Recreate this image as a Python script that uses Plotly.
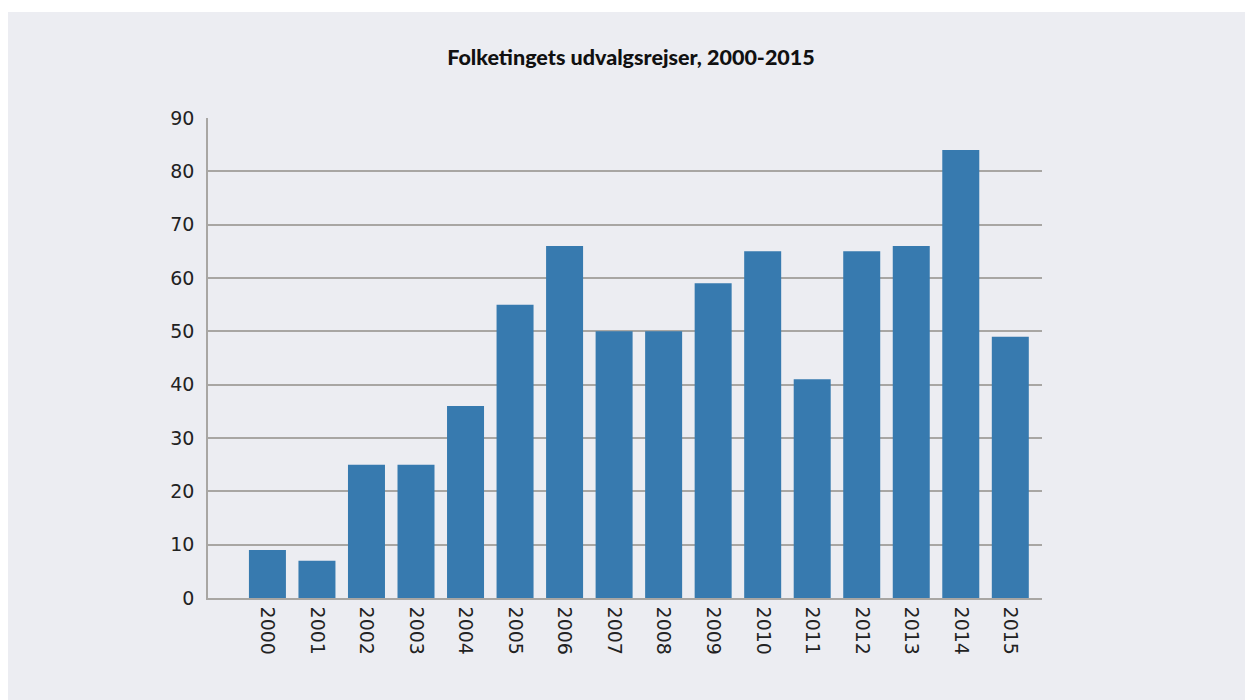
import plotly.graph_objects as go

years = [2000, 2001, 2002, 2003, 2004, 2005, 2006, 2007, 2008, 2009, 2010, 2011, 2012, 2013, 2014, 2015]
trips = [9, 7, 25, 25, 36, 55, 66, 50, 50, 59, 65, 41, 65, 66, 84, 49]
y_ticks = [0, 10, 20, 30, 40, 50, 60, 70, 80, 90]
title_text = "Folketingets udvalgsrejser, 2000-2015"

BG = "#ECEDF2"
GRID = "#A8A6A3"
BAR = "#377AAF"

# body margin is removed by the post script, so figure coords = screen coords
W, H = 1245, 700
L, R, T, B = 208, 1042, 118, 598
pw, ph = R - L, B - T

fig = go.Figure(go.Bar(
    x=years, y=trips,
    marker=dict(color=BAR, line=dict(width=0)),
    hoverinfo="x+y",
))

white_top = dict(
    type="rect", xref="paper", yref="paper", layer="below",
    x0=(-20 - L) / pw, x1=(W + 20 - L) / pw,
    y0=(B - 12) / ph, y1=(B + 20) / ph,
    fillcolor="white", line=dict(width=0),
)
white_left = dict(
    type="rect", xref="paper", yref="paper", layer="below",
    x0=(-20 - L) / pw, x1=(8 - L) / pw,
    y0=(B - (H + 20)) / ph, y1=(B + 20) / ph,
    fillcolor="white", line=dict(width=0),
)

fig.update_layout(
    width=W, height=H,
    margin=dict(l=L, r=W - R, t=T, b=H - B, pad=0),
    paper_bgcolor=BG,
    plot_bgcolor="rgba(0,0,0,0)",
    bargap=0.253,
    showlegend=False,
    title=dict(
        text=title_text,
        x=(631 - L) / pw, xref="paper", xanchor="center",
        y=1 - 57 / H, yref="container", yanchor="middle",
        font=dict(family="Lato", size=21.5, color="#111111", weight=900),
    ),
    font=dict(family="DejaVu Sans", color="#222222"),
    shapes=[white_top, white_left],
)

fig.update_xaxes(
    range=[1998.80, 2015.64],
    tickmode="array", tickvals=years, ticktext=[str(y) for y in years],
    tickangle=90,
    tickfont=dict(family="DejaVu Sans", size=19, color="#222222"),
    showgrid=False, zeroline=False,
    showline=True, linecolor=GRID, linewidth=1.5,
    ticks="", ticklabelstandoff=3,
    fixedrange=True,
)

fig.update_yaxes(
    range=[0, 90],
    tickmode="array", tickvals=y_ticks, ticktext=[str(v) for v in y_ticks],
    tickfont=dict(family="DejaVu Sans", size=19, color="#222222"),
    showgrid=True, gridcolor=GRID, gridwidth=1.5,
    zeroline=False,
    showline=True, linecolor=GRID, linewidth=1.5,
    ticks="", ticklabelstandoff=8,
    fixedrange=True,
)

fig.write_html(
    "out.html",
    config={"displayModeBar": False},
    post_script="document.body.style.margin='0';"
                "document.body.style.background='" + BG + "';"
                "document.documentElement.style.background='" + BG + "';"
                "document.documentElement.style.overflow='hidden';"
                "document.body.style.overflow='hidden';",
)
